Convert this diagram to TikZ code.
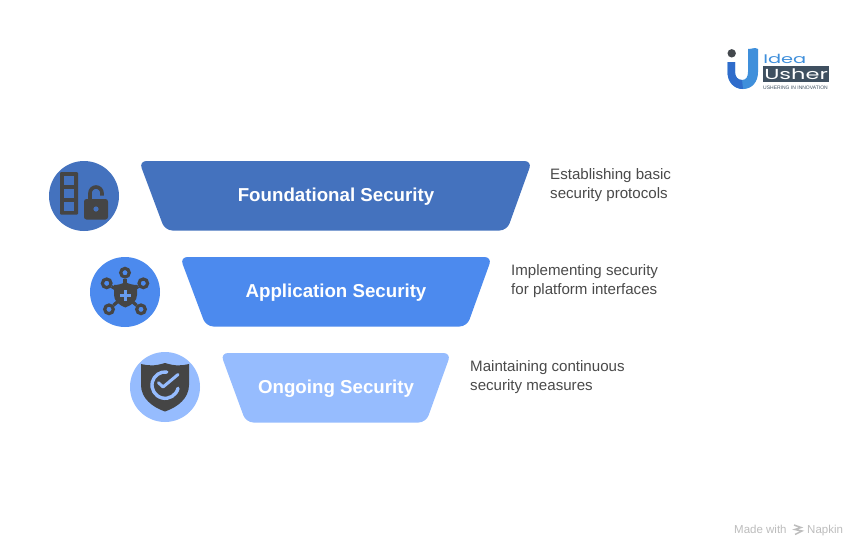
\documentclass[tikz,border=0pt]{standalone}
\usepackage{fontspec}
\setmainfont{Liberation Sans}
\newfontfamily\logofont{Poppins}
\definecolor{bluea}{HTML}{4472BE}
\definecolor{blueb}{HTML}{4C8AEE}
\definecolor{bluec}{HTML}{96BCFE}
\definecolor{icon}{HTML}{454545}
\definecolor{txt}{HTML}{4A4A4A}
\definecolor{logoblue}{HTML}{3F8FDB}
\definecolor{logodeep}{HTML}{2F6CCB}
\definecolor{logodark}{HTML}{3F5060}
\definecolor{markgray}{HTML}{BDBDBD}
\tikzset{
  x=1pt,y=-1pt,
  funnelbar/.style={rounded corners=7.5pt,draw=none},
  barlabel/.style={text=white,font=\bfseries\fontsize{18.7}{22}\selectfont,anchor=base},
  sidelabel/.style={text=txt,font=\fontsize{15.1}{19}\selectfont,anchor=base west,inner sep=0pt},
  iconcircle/.style={circle,minimum size=70pt,inner sep=0pt,draw=none},
  ringnode/.style={circle,draw=icon,line width=3.2pt,minimum size=8.6pt,inner sep=0pt},
  marktext/.style={text=markgray,font=\fontsize{11.5}{13}\selectfont,anchor=base west,inner sep=0pt},
  logotext/.style={anchor=base west,inner sep=0pt,xscale=1.55,transform shape},
}
\begin{document}
\begin{tikzpicture}
\useasboundingbox (0,0) rectangle (867,558);
\fill[white] (0,0) rectangle (867,558);
% bars
\fill[bluea,funnelbar] (139,161) -- (532,161) -- (507,230.5) -- (165,230.5) -- cycle;
\fill[blueb,funnelbar] (180,257) -- (492,257) -- (467,326.5) -- (206,326.5) -- cycle;
\fill[bluec,funnelbar] (220.5,353) -- (451,353) -- (426,422.5) -- (246,422.5) -- cycle;
\node[barlabel] (t1) at (336,201.5) {Foundational Security};
\node[barlabel] (t2) at (336,297.5) {Application Security};
\node[barlabel] (t3) at (336,393.5) {Ongoing Security};
% circles
\node[iconcircle,fill=bluea] (c1) at (84,196) {};
\node[iconcircle,fill=blueb] (c2) at (125,292) {};
\node[iconcircle,fill=bluec] (c3) at (165,387) {};
% side text
\node[sidelabel] (d1a) at (550,179) {Establishing basic};
\node[sidelabel] (d1b) at (550,198) {security protocols};
\node[sidelabel] (d2a) at (511,275) {Implementing security};
\node[sidelabel] (d2b) at (511,294) {for platform interfaces};
\node[sidelabel] (d3a) at (470,371) {Maintaining continuous};
\node[sidelabel] (d3b) at (470,390) {security measures};
% icon 1
\fill[icon,rounded corners=1pt] (60,172) rectangle (78,214.5);
\fill[bluea] (64.3,176) rectangle (73.5,184.5);
\fill[bluea] (64.3,188.5) rectangle (73.5,197.7);
\fill[bluea] (64.3,201.7) rectangle (73.5,210.5);
\fill[icon,rounded corners=2.5pt] (84,199) rectangle (108,219.5);
\draw[icon,line width=3.6pt] (90,200) -- (90,193) arc[start angle=180,end angle=360,radius=6] -- (102,195.5);
\fill[bluea] (96,209) circle (2.6);
% icon 2
\fill[icon] (114,285) .. controls (118,285) and (122,284) .. (125.3,282) .. controls (129,284) and (133,285) .. (137,285) -- (137,295) .. controls (137,301) and (132,305) .. (125.3,307.5) .. controls (119,305) and (114,301) .. (114,295) -- cycle;
\node[ringnode] (r1) at (125,272.7) {};
\node[ringnode] (r2) at (106.7,283.3) {};
\node[ringnode] (r3) at (143.3,283.3) {};
\node[ringnode] (r4) at (109,309.3) {};
\node[ringnode] (r5) at (141,309.3) {};
\coordinate (hub) at (125,295);
\foreach \r in {r1,r2,r3,r4,r5}{\draw[icon,line width=3.2pt] (\r) -- (hub);}
\foreach \r in {r1,r2,r3,r4,r5}{\node[circle,fill=blueb,minimum size=4.2pt,inner sep=0pt] at (\r) {};}
\draw[blueb!85!white,line width=2.4pt] (125.3,290) -- (125.3,301) (120,295.5) -- (131,295.5);
% icon 3
\fill[icon] (141,364) .. controls (150,366) and (155,366) .. (165,363) .. controls (175,366) and (180,366) .. (189,364) -- (189,385) .. controls (189,398) and (178,407) .. (165,411.5) .. controls (152,407) and (141,398) .. (141,385) -- cycle;
\draw[bluec,line width=3.4pt,line cap=round] (178,388.3) arc[start angle=14,end angle=277,radius=13.2];
\draw[bluec,line width=3pt,line cap=round,line join=round] (158.5,382.7) -- (163,387) -- (178,374.5);
% logo
\fill[icon!70!logodark] (731.7,53.3) circle (4.2);
\fill[logoblue] (748,49) .. controls (752,49) and (755,47) .. (758,49) -- (758,72) .. controls (758,82) and (752,89) .. (743,89) .. controls (734,89) and (727.5,82) .. (727.5,72) -- (727.5,62) -- (735,62) -- (735,72) .. controls (735,77) and (738,80) .. (742,80) .. controls (746,80) and (748,77) .. (748,72) -- cycle;
\fill[logodeep] (727.5,62) -- (735,62) -- (735,72) .. controls (735,77) and (738,80) .. (742,80) -- (743,89) .. controls (734,89) and (727.5,82) .. (727.5,72) -- cycle;
\node[logotext,text=logoblue,font=\logofont\fontsize{12.5}{13}\selectfont] (lg1) at (763,63.5) {Idea};
\fill[logodark] (762.5,66) rectangle (829,82);
\node[logotext,text=white,font=\logofont\fontsize{14.5}{15}\selectfont] (lg2) at (764,79.5) {Usher};
\node[text=logodark,font=\fontsize{5}{5}\selectfont,anchor=base west,inner sep=0pt] (lg3) at (763,89) {USHERING IN INNOVATION};
% watermark
\node[marktext] (m1) at (734,533) {Made with};
\node[marktext] (m2) at (807,533) {Napkin};
\draw[markgray,line width=1.5pt] (794,525) -- (801,527.5) -- (795,529.5) -- (802,531) -- (795,534.5);
\end{tikzpicture}
\end{document}
